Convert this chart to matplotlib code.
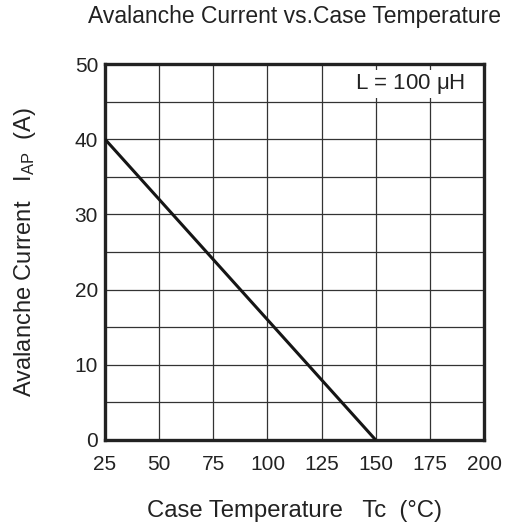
import numpy as np
import matplotlib
matplotlib.use('Agg')
import matplotlib.pyplot as plt

plt.rcParams['font.family'] = ['Liberation Sans', 'DejaVu Sans']
plt.rcParams['mathtext.fontset'] = 'custom'
plt.rcParams['mathtext.rm'] = 'Liberation Sans'
plt.rcParams['mathtext.it'] = 'Liberation Sans'

# data
temp_c = [25, 150]
i_ap = [40, 0]
x_ticks = [25, 50, 75, 100, 125, 150, 175, 200]
y_ticks = [0, 10, 20, 30, 40, 50]

txt = '#222222'

fig = plt.figure(figsize=(5.24, 5.26), dpi=100)
ax = fig.add_axes([0.2004, 0.1635, 0.7233, 0.7148])

ax.plot(temp_c, i_ap, color='#151515', lw=2.2, solid_capstyle='butt', zorder=3)

ax.set_xlim(25, 200)
ax.set_ylim(0, 50)
ax.set_xticks(x_ticks)
ax.set_yticks(y_ticks)
ax.set_xticks(np.arange(25, 201, 25), minor=True)
ax.set_yticks(np.arange(0, 51, 5), minor=True)
ax.grid(True, which='both', color='#333333', lw=0.9)
ax.tick_params(which='both', length=0, labelsize=15, colors=txt)
ax.tick_params(axis='x', pad=11)
ax.tick_params(axis='y', pad=5)

for s in ax.spines.values():
    s.set_linewidth(2.4)
    s.set_color('#222222')

ax.text(0.95, 0.948, r'L = 100 $\mu$H', transform=ax.transAxes, ha='right', va='center',
        fontsize=16, color=txt,
        bbox=dict(facecolor='white', edgecolor='none', pad=1.5), zorder=4)

cx = 0.2004 + 0.7233 / 2
cy = 0.1635 + 0.7148 / 2
fig.text(cx, 1 - 17 / 526, 'Avalanche Current vs.Case Temperature', ha='center', va='center',
         fontsize=16.5, color=txt)
fig.text(cx, 1 - 517 / 526, 'Case Temperature   Tc  (\u00b0C)', ha='center', va='baseline',
         fontsize=17.2, color=txt)
fig.text(25 / 524, cy, r'Avalanche Current   I$_{\mathrm{AP}}$  (A)', rotation=90,
         ha='center', va='center', fontsize=17, color=txt)

fig.savefig('out.png', dpi=100)
